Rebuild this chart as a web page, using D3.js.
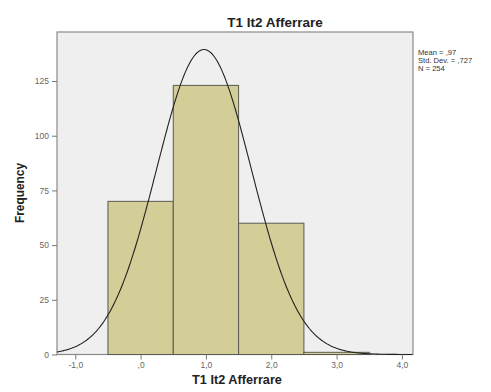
<!DOCTYPE html>
<html>
<head>
<meta charset="utf-8">
<script src="https://cdn.jsdelivr.net/npm/d3@7"></script>
<style>
  body { margin: 0; background: #fff; }
  text { font-family: Arial, "Liberation Sans", sans-serif; }
</style>
</head>
<body>
<svg id="chart" width="491" height="392"></svg>
<script>
const svg = d3.select("#chart");

// histogram bins (lower edge, upper edge) and counts
const binStarts = [-0.5, 0.5, 1.5, 2.5];
const binEnds = [0.5, 1.5, 2.5, 3.5];
const counts = [70, 123, 60, 1];

// summary stats shown at right
const mean = 0.97;
const stdDev = 0.727;
const total = 254;
const statLabels = ["Mean = ,97", "Std. Dev. = ,727", "N = 254"];

const xTicks = [-1, 0, 1, 2, 3, 4];
const xTickLabels = ["-1,0", ",0", "1,0", "2,0", "3,0", "4,0"];
const yTicks = [0, 25, 50, 75, 100, 125];

const plotL = 57, plotR = 413, plotT = 32, plotB = 354.5;

const x = d3.scaleLinear().domain([-1.28, 4.17]).range([plotL, plotR]);
const y = d3.scaleLinear().domain([0, 147.4]).range([plotB, plotT]);

// plot background
svg.append("rect")
  .attr("x", plotL).attr("y", plotT)
  .attr("width", plotR - plotL).attr("height", plotB - plotT)
  .attr("fill", "#efefef")
  .attr("stroke", "#8a8a8a")
  .attr("stroke-width", 1.2);

// bars
svg.selectAll(".bar")
  .data(counts)
  .enter()
  .append("rect")
  .attr("class", "bar")
  .attr("x", (d, i) => x(binStarts[i]))
  .attr("y", (d) => y(d))
  .attr("width", (d, i) => x(binEnds[i]) - x(binStarts[i]))
  .attr("height", (d) => plotB - y(d))
  .attr("fill", "#d3cd97")
  .attr("stroke", "#5a5a50")
  .attr("stroke-width", 1);

// fitted normal curve from the stats
const binWidth = binEnds[0] - binStarts[0];
const normal = (v) =>
  (total * binWidth) / (stdDev * Math.sqrt(2 * Math.PI)) *
  Math.exp(-0.5 * Math.pow((v - mean) / stdDev, 2));
const curvePts = d3.range(x.domain()[0], x.domain()[1] + 0.001, 0.02).map((v) => [v, normal(v)]);

svg.append("path")
  .datum(curvePts)
  .attr("fill", "none")
  .attr("stroke", "#222")
  .attr("stroke-width", 1.1)
  .attr("d", d3.line().x((d) => x(d[0])).y((d) => y(d[1])));

// x axis
const xAxis = svg.append("g")
  .attr("transform", `translate(0,${plotB})`)
  .call(d3.axisBottom(x).tickValues(xTicks).tickSize(5).tickPadding(2)
    .tickFormat((d, i) => xTickLabels[i]));
xAxis.select(".domain").remove();
xAxis.selectAll(".tick line").attr("stroke", "#777");
xAxis.selectAll("text").attr("fill", "#666").style("font-size", "8.5px");

// y axis
const yAxis = svg.append("g")
  .attr("transform", `translate(${plotL},0)`)
  .call(d3.axisLeft(y).tickValues(yTicks).tickSize(5).tickPadding(3));
yAxis.select(".domain").remove();
yAxis.selectAll(".tick line").attr("stroke", "#777");
yAxis.selectAll("text").attr("fill", "#666").style("font-size", "8.5px");

// title and axis labels
svg.append("text")
  .attr("x", 275).attr("y", 27)
  .attr("text-anchor", "middle")
  .style("font-size", "13.5px").style("font-weight", "bold")
  .attr("fill", "#222")
  .text("T1 It2 Afferrare");

svg.append("text")
  .attr("x", 237).attr("y", 384)
  .attr("text-anchor", "middle")
  .style("font-size", "12.7px").style("font-weight", "bold")
  .attr("fill", "#222")
  .text("T1 It2 Afferrare");

svg.append("text")
  .attr("transform", "translate(24,193) rotate(-90)")
  .attr("text-anchor", "middle")
  .style("font-size", "11.9px").style("font-weight", "bold")
  .attr("fill", "#222")
  .text("Frequency");

// stats legend
svg.selectAll(".stat")
  .data(statLabels)
  .enter()
  .append("text")
  .attr("class", "stat")
  .attr("x", 418)
  .attr("y", (d, i) => 55 + i * 8)
  .style("font-size", "7.6px")
  .attr("fill", "#333")
  .text((d) => d);
</script>
</body>
</html>
